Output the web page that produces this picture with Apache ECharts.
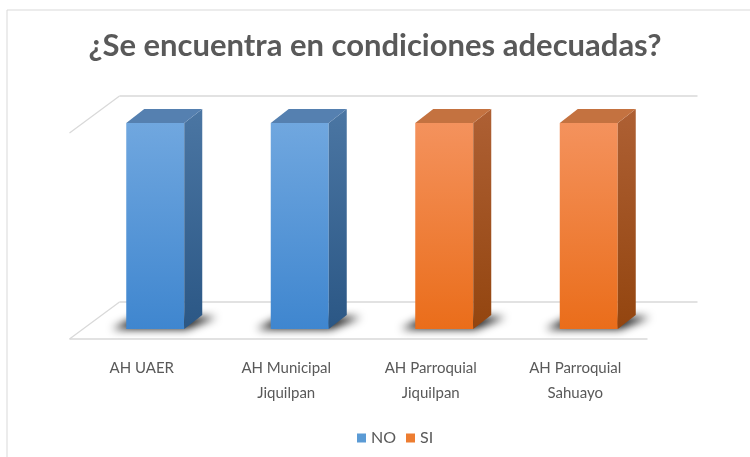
<!DOCTYPE html>
<html>
<head>
<meta charset="utf-8">
<script src="https://cdn.jsdelivr.net/npm/echarts@6/dist/echarts.min.js"></script>
<style>
  html, body { margin: 0; padding: 0; background: #fff; }
  #chart { width: 750px; height: 457px; }
</style>
</head>
<body>
<div id="chart"></div>
<script>
var categories = ['AH UAER', 'AH Municipal\nJiquilpan', 'AH Parroquial\nJiquilpan', 'AH Parroquial\nSahuayo'];
var valuesNO = [1, 1, 0, 0];
var valuesSI = [0, 0, 1, 1];
var yMax = 1;

var myChart = echarts.init(document.getElementById('chart'));

// colores de cada serie: frente (arriba/abajo), lado (arriba/abajo), tapa
var paletas = {
  NO: { f1: '#70a7df', f2: '#3f86cf', s1: '#4b76a3', s2: '#2b5785', t: '#5580b0', legend: '#5b9bd5' },
  SI: { f1: '#f4925d', f2: '#ea6d1a', s1: '#ae6034', s2: '#93450f', t: '#c47240', legend: '#ed7d31' }
};

// profundidad del piso respecto al plano frontal de las barras
var pisoFrente = [-13.5, 10];
var pisoFondo = [36.5, -27];

function renderParedes(params, api) {
  var cs = params.coordSys;
  var L = cs.x, R = cs.x + cs.width, B = cs.y + cs.height;
  var T = api.coord([0, yMax])[1];
  var f = pisoFrente, b = pisoFondo;
  var st = { stroke: '#d9d9d9', lineWidth: 1.3, fill: null };
  function linea(x1, y1, x2, y2) {
    return { type: 'line', shape: { x1: x1, y1: y1, x2: x2, y2: y2 }, style: st };
  }
  return {
    type: 'group',
    children: [
      linea(L + f[0], B + f[1], R + f[0], B + f[1]),
      linea(L + f[0], B + f[1], L + b[0], B + b[1]),
      linea(L + b[0], B + b[1], R + b[0], B + b[1]),
      linea(L + f[0], T + f[1], L + b[0], T + b[1]),
      linea(L + b[0], T + b[1], R + b[0], T + b[1])
    ]
  };
}

function makeRender(p) {
  return function (params, api) {
    var v = api.value(1);
    if (!v) return null;
    var top = api.coord([api.value(0), v]);
    var base = api.coord([api.value(0), 0]);
    var w = 58, dx = 18, dy = -14;
    var x0 = top[0] - w / 2, x1 = top[0] + w / 2, yt = top[1], yb = base[1];
    // sombra difusa en el piso: la figura va fuera de la vista y solo se ve su sombra
    var off = 2000;
    return {
      type: 'group',
      children: [
        {
          type: 'polygon',
          shape: { points: [[x0 - 14 + off, yb], [x1 + 2 + off, yb], [x1 + dx + 14 + off, yb + dy + 2], [x0 + dx - 8 + off, yb + dy + 2]] },
          style: { fill: '#000', shadowBlur: 9, shadowColor: 'rgba(0,0,0,0.95)', shadowOffsetX: -off, shadowOffsetY: 0 }
        },
        {
          type: 'rect',
          shape: { x: x0, y: yt, width: w, height: yb - yt },
          style: { fill: new echarts.graphic.LinearGradient(0, 0, 0, 1, [{ offset: 0, color: p.f1 }, { offset: 1, color: p.f2 }]) }
        },
        {
          type: 'polygon',
          shape: { points: [[x1, yt], [x1 + dx, yt + dy], [x1 + dx, yb + dy], [x1, yb]] },
          style: { fill: new echarts.graphic.LinearGradient(0, 0, 0, 1, [{ offset: 0, color: p.s1 }, { offset: 1, color: p.s2 }]) }
        },
        {
          type: 'polygon',
          shape: { points: [[x0, yt], [x1, yt], [x1 + dx, yt + dy], [x0 + dx, yt + dy]] },
          style: { fill: p.t }
        }
      ]
    };
  };
}

function datos(vals) {
  return vals.map(function (v, i) { return [i, v]; });
}

var option = {
  animation: false,
  title: {
    text: '¿Se encuentra en condiciones adecuadas?',
    left: 'center',
    top: 25,
    textStyle: { fontFamily: 'Lato', fontSize: 31, fontWeight: 'bold', color: '#595959' }
  },
  legend: {
    top: 425,
    left: 352,
    itemWidth: 9,
    itemHeight: 9,
    itemGap: 10,
    icon: 'rect',
    textStyle: { fontFamily: 'Lato', fontSize: 16, color: '#595959' },
    data: [
      { name: 'NO', itemStyle: { color: paletas.NO.legend } },
      { name: 'SI', itemStyle: { color: paletas.SI.legend } }
    ]
  },
  graphic: [{
    type: 'rect',
    shape: { x: 7, y: 10, width: 800, height: 500 },
    style: { fill: null, stroke: '#d9d9d9', lineWidth: 1 }
  }],
  grid: [
    { left: 83, top: 123, width: 578, height: 206 },
    { left: 69.5, top: 133, width: 578, height: 206 }
  ],
  xAxis: [
    { type: 'category', gridIndex: 0, data: categories, show: false },
    {
      type: 'category', gridIndex: 1, data: categories,
      axisLine: { show: false }, axisTick: { show: false },
      axisLabel: { margin: 17, fontFamily: 'Lato', fontSize: 15, lineHeight: 25, color: '#595959', interval: 0 }
    }
  ],
  yAxis: [
    { type: 'value', gridIndex: 0, min: 0, max: yMax, show: false },
    { type: 'value', gridIndex: 1, min: 0, max: yMax, show: false }
  ],
  series: [
    {
      name: 'paredes', type: 'custom', xAxisIndex: 0, yAxisIndex: 0, z: 1,
      renderItem: renderParedes, data: [[0, 0]], silent: true
    },
    {
      name: 'NO', type: 'custom', xAxisIndex: 0, yAxisIndex: 0, z: 2,
      itemStyle: { color: paletas.NO.legend },
      renderItem: makeRender(paletas.NO), data: datos(valuesNO)
    },
    {
      name: 'SI', type: 'custom', xAxisIndex: 0, yAxisIndex: 0, z: 2,
      itemStyle: { color: paletas.SI.legend },
      renderItem: makeRender(paletas.SI), data: datos(valuesSI)
    }
  ]
};

myChart.setOption(option);
</script>
</body>
</html>
